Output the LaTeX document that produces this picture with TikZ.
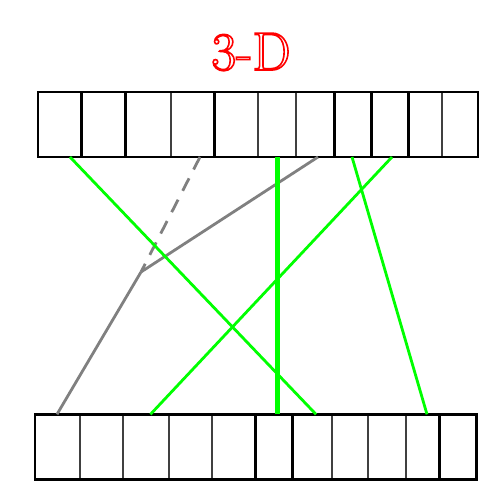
\documentclass[tikz,border=0pt]{standalone}
\tikzset{
  thickdiv/.style={line width=3pt, black},
  thindiv/.style={line width=2pt, black!75},
  barframe/.style={line width=2.6pt, black},
  greenline/.style={line width=2.8pt, draw=green},
  greenthick/.style={line width=5pt, draw=green},
  grayline/.style={line width=2.8pt, draw=gray},
  graydash/.style={line width=2.8pt, draw=gray, dash pattern=on 14pt off 10pt},
  bar/.style={draw=none, minimum width=#1, minimum height=65pt, inner sep=0pt, outer sep=0pt}
}
\begin{document}
\begin{tikzpicture}[x=1pt, y=-1pt]
\useasboundingbox (0,0) rectangle (495,501);
\fill[white] (0,0) rectangle (495,501);
% title
\node[red, font=\fontsize{54}{60}\selectfont] (title) at (251,52) {\special{pdf:literal direct 1 Tr 1.6 w}3-D\special{pdf:literal direct 0 Tr}};
% top bar
\node[bar=440pt] (top) at (258,124.5) {};
\foreach \x in {81.7,125.7,214.3,334.3,371,408.3} \draw[thickdiv] (\x,92) -- (\x,157);
\foreach \x in {170.7,257.7,295.7,442.3} \draw[thindiv] (\x,92) -- (\x,157);
\draw[barframe] (top.north west) rectangle (top.south east);
% bottom bar
\node[bar=441.7pt] (bot) at (255.85,447.15) {};
\foreach \x in {255.7,292.7,439.3} \draw[thickdiv] (\x,414.3) -- (\x,480);
\foreach \x in {80,122.7,169,211.7,331.7,368.3,405.7} \draw[thindiv] (\x,414.3) -- (\x,480);
\draw[barframe] (bot.north west) rectangle (bot.south east);
% anchor points
\coordinate (t1) at (70,157);
\coordinate (t2) at (200,157);
\coordinate (t3) at (277,157);
\coordinate (t4) at (318,157);
\coordinate (t5) at (352,157);
\coordinate (t6) at (392,157);
\coordinate (b1) at (57,414.3);
\coordinate (b2) at (150.5,414.3);
\coordinate (b3) at (277,414.3);
\coordinate (b4) at (316,414.3);
\coordinate (b5) at (427,414.3);
\coordinate (j) at (141,272);
% connectors
\draw[graydash] (t2) -- (j);
\draw[grayline] (t4) -- (j);
\draw[grayline] (j) -- (b1);
\draw[greenline] (t1) -- (b4);
\draw[greenline] (t6) -- (b2);
\draw[greenline] (t5) -- (b5);
\draw[greenthick] (t3) -- (b3);
\end{tikzpicture}
\end{document}
